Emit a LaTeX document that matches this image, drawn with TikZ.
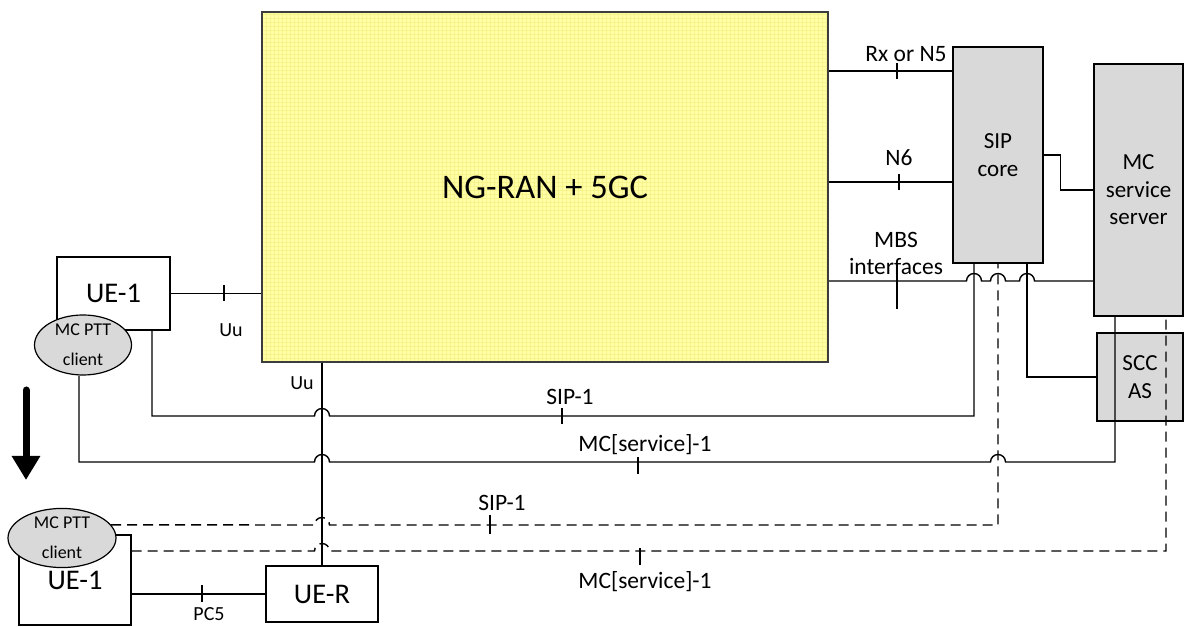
\documentclass[tikz,border=0pt]{standalone}
\usepackage{fontspec}
\setmainfont{Carlito}
\usetikzlibrary{arrows.meta,shapes.geometric}
\definecolor{RanYellow}{HTML}{FFFFA8}
\definecolor{RanGrid}{HTML}{F7F28A}
\definecolor{NodeGray}{HTML}{D9D9D9}
\definecolor{EdgeDark}{HTML}{3C3C3C}

\begin{document}
\begin{tikzpicture}[x=1pt, y=1pt,
  box/.style={draw=black, line width=1.4pt, fill=white, align=center, inner sep=0pt, font=\fontsize{28.5}{31}\selectfont},
  gbox/.style={draw=black, line width=1.4pt, fill=NodeGray, align=center, inner sep=0pt, font=\fontsize{23}{27.5}\selectfont},
  client/.style={ellipse, draw=black, line width=1.2pt, fill=NodeGray, align=center, inner sep=0pt, font=\fontsize{18}{30}\selectfont},
  wire/.style={line width=1.4pt, draw=black},
  dwire/.style={wire, dash pattern=on 10pt off 6pt},
  lbl/.style={font=\fontsize{23.5}{27}\selectfont, inner sep=0pt, align=center},
  slbl/.style={font=\fontsize{20}{22}\selectfont, inner sep=0pt}
]
\useasboundingbox (0,0) rectangle (1185,626);

% network and servers
\node[draw=EdgeDark, line width=2pt, fill=RanYellow, minimum width=566pt, minimum height=350pt,
  font=\fontsize{34.5}{38}\selectfont,
  path picture={\draw[RanGrid, line width=0.35pt, step=4pt] (path picture bounding box.south west) grid (path picture bounding box.north east);}]
  (ngran) at (545,439) {NG-RAN + 5GC};
\node[gbox, minimum width=90pt, minimum height=216pt] (sipcore) at (998,471) {SIP\\core};
\node[gbox, minimum width=89pt, minimum height=252pt] (mcsrv) at (1138.5,436) {MC\\service\\server};
\node[gbox, minimum width=86pt, minimum height=88pt] (sccas) at (1140,249) {SCC\\AS};

% UEs
\node[box, minimum width=113pt, minimum height=73pt] (ue1) at (113.5,332.5) {UE-1};
\node[client, minimum width=97pt, minimum height=60pt] (mcptt) at (83,281) {MC PTT\\client};
\node[box, minimum width=112pt, minimum height=90pt] (ue1r) at (75,46) {UE-1};
\node[client, minimum width=108pt, minimum height=57pt] (mcpttr) at (62,88) {MC PTT\\client};
\node[box, minimum width=112pt, minimum height=56pt] (uer) at (322,32) {UE-R};

% Uu
\draw[wire] (ue1.east) -- (ue1.east -| ngran.west);
\draw[wire] (224,325) -- (224,341);
\node[slbl] (uu1) at (231,296) {Uu};
\draw[wire] (uer.north) -- (uer.north |- ngran.south);
\node[slbl] (uu2) at (302,243) {Uu};

% Rx or N5, N6
\draw[wire] (ngran.east |- 0,555) -- (sipcore.west |- 0,555);
\draw[wire] (897,547) -- (897,563);
\node[lbl] (rxlbl) at (906,572) {Rx or N5};
\draw[wire] (ngran.east |- 0,444) -- (sipcore.west |- 0,444);
\draw[wire] (899,436) -- (899,452);
\node[lbl] (n6lbl) at (899,468) {N6};

% MBS
\draw[wire] (ngran.east |- 0,345) -- (966.5,345) arc[start angle=180, end angle=0, radius=7.5pt]
  -- (990.5,345) arc[start angle=180, end angle=0, radius=7.5pt]
  -- (1019.5,345) arc[start angle=180, end angle=0, radius=7.5pt] -- (mcsrv.west |- 0,345);
\draw[wire] (897,317) -- (897,356);
\node[lbl] (mbslbl) at (896,373) {MBS\\interfaces};

% SIP core links
\draw[wire] (sipcore.east) -- ++(17,0) |- (mcsrv.west);
\draw[wire] ([xshift=29pt]sipcore.south) |- (sccas.west);

% SIP-1 and MC[service]-1 (on network)
\draw[wire] ([xshift=38.5pt]ue1.south) |- (314.5,210) arc[start angle=180, end angle=0, radius=7.5pt]
  -- (974,210) -- ([xshift=-24pt]sipcore.south);
\draw[wire] (562,202) -- (562,218);
\node[lbl] (sip1a) at (570,229) {SIP-1};
\draw[wire] ([xshift=-4pt]mcptt.south) |- (314.5,164) arc[start angle=180, end angle=0, radius=7.5pt]
  -- (990.5,164) arc[start angle=180, end angle=0, radius=7.5pt]
  -- (1115,164) -- ([xshift=-23.5pt]mcsrv.south);
\draw[wire] (638,152) -- (638,169);
\node[lbl] (mcs1a) at (645,181) {MC[service]-1};

% SIP-1 and MC[service]-1 (via UE-R)
\draw[dwire] (mcpttr.15) -- (314.5,101) arc[start angle=180, end angle=0, radius=7.5pt]
  -- (998,101) -- (sipcore.south);
\draw[wire] (490,92) -- (490,111);
\node[lbl] (sip1b) at (502,123) {SIP-1};
\draw[dwire] ([yshift=29pt]ue1r.east) -- (314.5,75) arc[start angle=180, end angle=0, radius=7.5pt]
  -- (1166,75) -- ([xshift=27.5pt]mcsrv.south);
\draw[wire] (640,61) -- (640,78);
\node[lbl] (mcs1b) at (645,44) {MC[service]-1};

% PC5
\draw[wire] (uer.west) -- (uer.west -| ue1r.east);
\draw[wire] (202,24) -- (202,41);
\node[slbl] (pc5) at (209,12) {PC5};

% move arrow
\coordinate (arrtop) at (26,236);
\coordinate (arrbot) at (26,146);
\draw[line width=7pt, line cap=round, -{Triangle[width=27pt,length=24pt]}] (arrtop) -- (arrbot);
\end{tikzpicture}
\end{document}
